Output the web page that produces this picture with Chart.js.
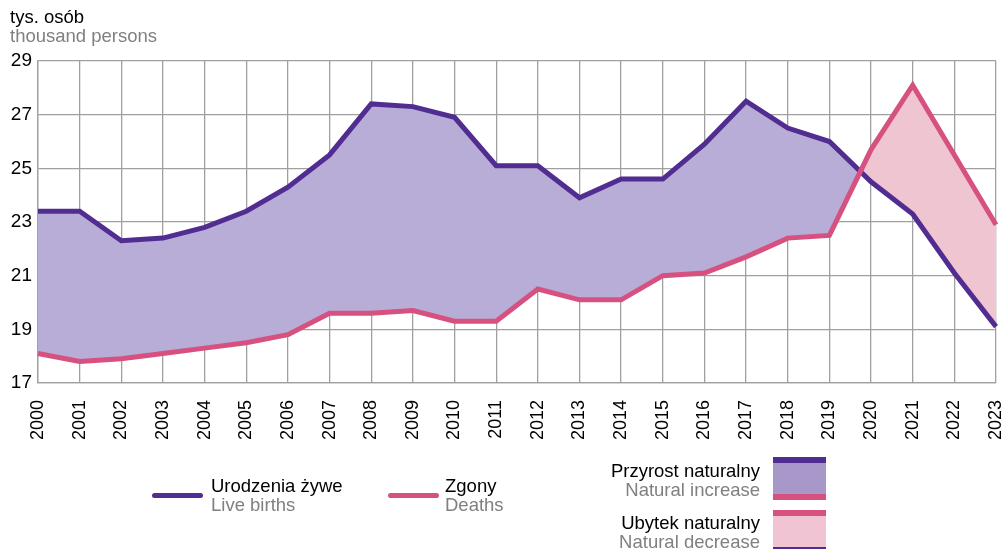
<!DOCTYPE html>
<html>
<head>
<meta charset="utf-8">
<script src="https://cdn.jsdelivr.net/npm/chart.js@4/dist/chart.umd.min.js"></script>
<style>
  body { margin: 0; width: 1005px; height: 549px; overflow: hidden; background: #fff; font-family: 'Liberation Sans', Arial, sans-serif; }
  #wrap { position: absolute; left: 0; top: 0; width: 1005px; height: 549px; }
  .t { position: absolute; font-size: 18.5px; line-height: 19px; white-space: nowrap; }
  .pl { color: #000; }
  .en { color: #808080; }
  .r { text-align: right; }
  .line { position: absolute; height: 5px; border-radius: 3px; }
</style>
</head>
<body>
<div id="wrap">
  <canvas id="chart" width="1005" height="549"></canvas>
</div>
<div class="t" style="left:10px;top:7px"><div class="pl">tys. osób</div><div class="en">thousand persons</div></div>

<div class="line" style="left:152px;top:493px;width:51px;background:#512D91"></div>
<div class="t" style="left:211px;top:476px"><div class="pl">Urodzenia żywe</div><div class="en">Live births</div></div>
<div class="line" style="left:388px;top:493px;width:51px;background:#D6517F"></div>
<div class="t" style="left:445px;top:476px"><div class="pl">Zgony</div><div class="en">Deaths</div></div>

<div class="t r" style="right:245px;top:461px"><div class="pl">Przyrost naturalny</div><div class="en">Natural increase</div></div>
<div style="position:absolute;left:773px;top:457px;width:53px;height:43px;background:#A898CA;border-top:6px solid #512D91;border-bottom:6px solid #D6517F;box-sizing:border-box"></div>
<div class="t r" style="right:245px;top:513px"><div class="pl">Ubytek naturalny</div><div class="en">Natural decrease</div></div>
<div style="position:absolute;left:773px;top:510px;width:53px;height:43px;background:#F0C4D2;border-top:6px solid #D6517F;border-bottom:6px solid #512D91;box-sizing:border-box"></div>

<script>
const years = ['2000','2001','2002','2003','2004','2005','2006','2007','2008','2009','2010','2011',
  '2012','2013','2014','2015','2016','2017','2018','2019','2020','2021','2022','2023']
const liveBirths = [23.4, 23.4, 22.3, 22.4, 22.8, 23.4, 24.3, 25.5, 27.4, 27.3, 26.9, 25.1,
  25.1, 23.9, 24.6, 24.6, 25.9, 27.5, 26.5, 26.0, 24.5, 23.3, 21.1, 19.1]
const deaths = [18.1, 17.8, 17.9, 18.1, 18.3, 18.5, 18.8, 19.6, 19.6, 19.7, 19.3, 19.3,
  20.5, 20.1, 20.1, 21.0, 21.1, 21.7, 22.4, 22.5, 25.7, 28.1, 25.5, 22.9]
const yTicks = [17, 19, 21, 23, 25, 27, 29]

const purple = '#512D91'
const pink = '#D6517F'

new Chart(document.querySelector('#chart'), {
  type: 'line',
  data: {
    labels: years,
    datasets: [{
      data: liveBirths,
      borderColor: purple,
      borderWidth: 5,
      pointRadius: 0,
      tension: 0,
      fill: { target: 1, above: '#B8ADD6', below: '#F0C5D2' },
      order: 2
    }, {
      data: deaths,
      borderColor: pink,
      borderWidth: 5,
      pointRadius: 0,
      tension: 0,
      fill: false,
      order: 1
    }]
  },
  options: {
    responsive: false,
    animation: false,
    layout: { padding: { top: 61, right: 9, left: 0, bottom: 0 } },
    plugins: { legend: { display: false }, tooltip: { enabled: false } },
    scales: {
      x: {
        offset: false,
        grid: { color: '#a0a0a0', lineWidth: 1.3, drawTicks: false },
        border: { color: '#a0a0a0', width: 1.3 },
        ticks: {
          minRotation: 90, maxRotation: 90, padding: 17,
          color: '#000', font: { family: 'Liberation Sans', size: 18 }
        },
        afterFit: s => { s.height = 166; s.paddingRight = 0; s.paddingLeft = 0 }
      },
      y: {
        min: 17, max: 29,
        afterBuildTicks: s => { s.ticks = yTicks.map(v => ({ value: v })) },
        grid: { color: '#a0a0a0', lineWidth: 1.3, drawTicks: false },
        border: { color: '#a0a0a0', width: 1.3 },
        ticks: { padding: 6, color: '#000', font: { family: 'Liberation Sans', size: 19 } },
        afterFit: s => { s.width = 38; s.paddingTop = 0; s.paddingBottom = 0 }
      }
    }
  }
})
</script>
</body>
</html>
